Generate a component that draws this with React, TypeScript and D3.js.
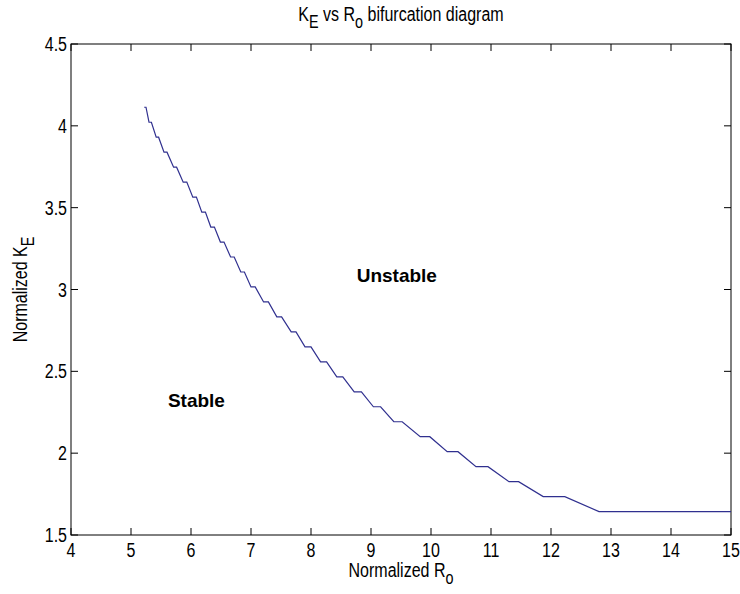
import React from "react";
import * as d3 from "d3";

// Boundary curve vertices (Normalized R_o, Normalized K_E)
const rVals = [
  5.22, 5.25, 5.30, 5.34, 5.42, 5.46, 5.55, 5.60, 5.71, 5.76, 5.87, 5.93,
  6.03, 6.09, 6.18, 6.24, 6.33, 6.39, 6.49, 6.55, 6.66, 6.72, 6.83, 6.89,
  7.00, 7.07, 7.21, 7.29, 7.43, 7.51, 7.67, 7.75, 7.90, 8.00, 8.16, 8.26,
  8.43, 8.53, 8.72, 8.84, 9.04, 9.16, 9.38, 9.52, 9.82, 9.98, 10.27, 10.45,
  10.75, 10.95, 11.30, 11.46, 11.87, 12.23, 12.80, 15.0,
];
const kVals = [
  4.1135, 4.1135, 4.022, 4.022, 3.9305, 3.9305, 3.839, 3.839, 3.7475, 3.7475, 3.656, 3.656,
  3.5645, 3.5645, 3.473, 3.473, 3.3815, 3.3815, 3.29, 3.29, 3.1985, 3.1985, 3.107, 3.107,
  3.0155, 3.0155, 2.924, 2.924, 2.8325, 2.8325, 2.741, 2.741, 2.6495, 2.6495, 2.558, 2.558,
  2.4665, 2.4665, 2.375, 2.375, 2.2835, 2.2835, 2.192, 2.192, 2.1005, 2.1005, 2.009, 2.009,
  1.9175, 1.9175, 1.826, 1.826, 1.7345, 1.7345, 1.643, 1.643,
];

const xTicks = [4, 5, 6, 7, 8, 9, 10, 11, 12, 13, 14, 15];
const yTicks = [1.5, 2, 2.5, 3, 3.5, 4, 4.5];
const regionLabels = [
  { text: "Unstable", r: 9.43, k: 3.045 },
  { text: "Stable", r: 6.09, k: 2.28 },
];

const W = 740;
const H = 594;
const left = 71;
const right = 731;
const top = 44;
const bottom = 535;
const FONT = "'Liberation Sans', Arial, Helvetica, sans-serif";
const SX = 0.8; // condensed look of the original text

export default function App() {
  const x = d3.scaleLinear().domain([4, 15]).range([left, right]);
  const y = d3.scaleLinear().domain([1.5, 4.5]).range([bottom, top]);
  const pts: [number, number][] = rVals.map((r, i) => [r, kVals[i]]);
  const line = d3
    .line<[number, number]>()
    .x((d) => x(d[0]))
    .y((d) => y(d[1]));
  const tl = 7;
  const fmt = (v: number) => String(v);

  return (
    <svg
      width={W}
      height={H}
      style={{ position: "absolute", left: 0, top: 0, background: "#fff" }}
    >
      <rect x={0} y={0} width={W} height={H} fill="#fff" />
      {xTicks.map((t) => (
        <g key={"xt" + t}>
          <line x1={x(t)} x2={x(t)} y1={bottom} y2={bottom - tl} stroke="#000" />
          <line x1={x(t)} x2={x(t)} y1={top} y2={top + tl} stroke="#000" />
          <text
            transform={`translate(${x(t)}, ${bottom + 22}) scale(${SX}, 1)`}
            textAnchor="middle"
            fontFamily={FONT}
            fontSize={20}
            fill="#000"
          >
            {fmt(t)}
          </text>
        </g>
      ))}
      {yTicks.map((t) => (
        <g key={"yt" + t}>
          <line x1={left} x2={left + tl} y1={y(t)} y2={y(t)} stroke="#000" />
          <line x1={right} x2={right - tl} y1={y(t)} y2={y(t)} stroke="#000" />
          <text
            transform={`translate(${left - 4}, ${y(t) + 7}) scale(${SX}, 1)`}
            textAnchor="end"
            fontFamily={FONT}
            fontSize={20}
            fill="#000"
          >
            {fmt(t)}
          </text>
        </g>
      ))}
      <rect
        x={left}
        y={top}
        width={right - left}
        height={bottom - top}
        fill="none"
        stroke="#000"
        strokeWidth={1}
      />
      <path d={line(pts) || ""} fill="none" stroke="#30308f" strokeWidth={1.2} />
      {regionLabels.map((l) => (
        <text
          key={l.text}
          x={x(l.r)}
          y={y(l.k)}
          textAnchor="middle"
          fontFamily={FONT}
          fontWeight="bold"
          fontSize={19}
          fill="#000"
        >
          {l.text}
        </text>
      ))}
      <text
        transform={`translate(${(left + right) / 2}, 21) scale(${SX}, 1)`}
        textAnchor="middle"
        fontFamily={FONT}
        fontSize={20}
        fill="#000"
      >
        K<tspan fontSize={18} dy={7}>E</tspan>
        <tspan dy={-7}> vs R</tspan>
        <tspan fontSize={18} dy={7}>o</tspan>
        <tspan dy={-7}> bifurcation diagram</tspan>
      </text>
      <text
        transform={`translate(${(left + right) / 2}, 577) scale(${SX}, 1)`}
        textAnchor="middle"
        fontFamily={FONT}
        fontSize={20}
        fill="#000"
      >
        Normalized R<tspan fontSize={18} dy={7}>o</tspan>
      </text>
      <text
        transform={`translate(27, ${(top + bottom) / 2}) rotate(-90) scale(${SX}, 1)`}
        textAnchor="middle"
        fontFamily={FONT}
        fontSize={20}
        fill="#000"
      >
        Normalized K<tspan fontSize={18} dy={7}>E</tspan>
      </text>
    </svg>
  );
}
